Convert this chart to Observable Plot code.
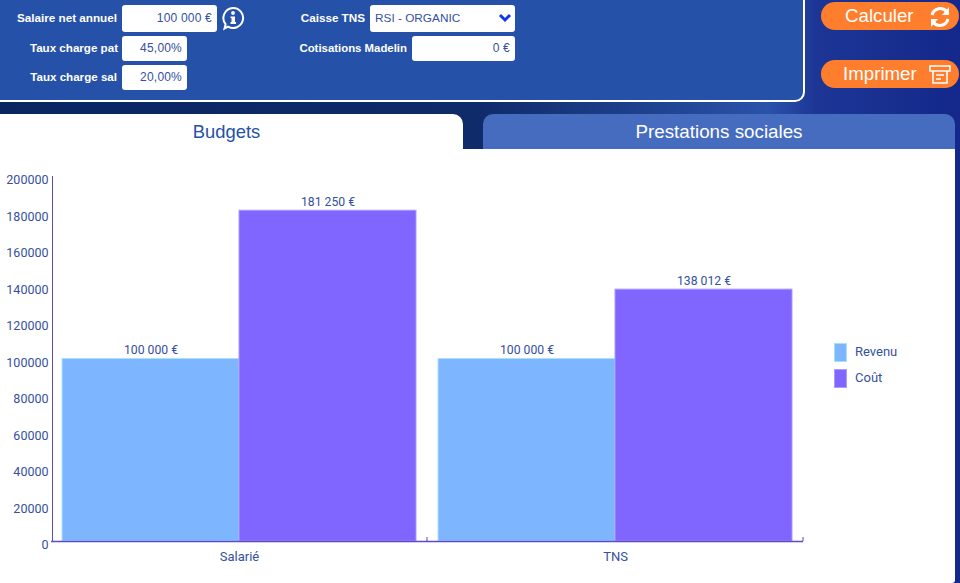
<!DOCTYPE html>
<html lang="fr"><head><meta charset="utf-8">
<script src="https://cdn.jsdelivr.net/npm/d3@7"></script>
<script src="https://cdn.jsdelivr.net/npm/@observablehq/plot@0.6"></script>
<style>
html,body{margin:0;padding:0;width:960px;height:583px;overflow:hidden}
body{position:relative;font-family:"Liberation Sans",Arial,sans-serif;background:linear-gradient(90deg,#0a2560 0%,#0f2b6a 50%,#2a52aa 80%,#1d3696 85%,#13288a 100%)}
.abs{position:absolute}
#panel{left:-4px;top:-4px;width:805px;height:102px;background:#2651a9;border:2px solid #fff;border-radius:0 0 10px 0;}
.lab{position:absolute;color:#fff;font-weight:bold;font-size:11.7px;text-align:right;line-height:14px;white-space:nowrap}
.inp{position:absolute;background:#fff;border-radius:3px;color:#34509f;font-size:12px;text-align:right;box-sizing:border-box;padding-right:5px;letter-spacing:.2px}
.btn{position:absolute;left:821px;width:138px;height:28px;border-radius:14px;background:#ff7e2e;color:#fff;font-size:18.7px;line-height:28px}
.tab{position:absolute;top:114px;height:35px;line-height:35px;text-align:center;font-size:18.4px}
#white{left:0;top:149px;width:955px;height:434px;background:#fff;border-radius:0 0 3px 0}
#chart{position:absolute;left:0;top:149px}
#legend{position:absolute;left:834px;top:339px;font:13px Roboto,sans-serif;color:#34509f}
#legend div{position:relative;height:26px;line-height:26px;padding-left:21px}
#legend i{position:absolute;left:0;top:4px;width:11px;height:17px;border:1px solid}
</style></head><body>
<div class="abs" id="panel"></div>
<div class="lab" style="right:843px;top:11px">Salaire net annuel</div>
<div class="inp" style="left:122px;top:5px;width:95px;height:27px;line-height:27px">100 000 €</div>
<svg class="abs" style="left:221px;top:6px" width="24" height="25" viewBox="0 0 24 25"><path d="M12 2 A10 10 0 1 1 7 20.6 L3.5 22.5 L4.6 18.2 A10 10 0 0 1 12 2 Z" fill="none" stroke="#fff" stroke-width="2"/><circle cx="12" cy="7" r="1.9" fill="#fff"/><path d="M9.5 10.5 H14 V16 H15 V18 H9.5 V16 H10.5 V12 H9.5 Z" fill="#fff"/></svg>
<div class="lab" style="right:842px;top:41px;font-size:11.6px">Taux charge pat</div>
<div class="inp" style="left:122px;top:36px;width:65px;height:25px;line-height:25px">45,00%</div>
<div class="lab" style="right:843px;top:70px;font-size:11.6px">Taux charge sal</div>
<div class="inp" style="left:122px;top:65px;width:65px;height:25px;line-height:25px">20,00%</div>
<div class="lab" style="right:595px;top:11px">Caisse TNS</div>
<div class="inp" style="left:370px;top:5px;width:145px;height:27px;line-height:27px;text-align:left;padding-left:5px;letter-spacing:0;font-size:11.8px">RSI - ORGANIC</div>
<svg class="abs" style="left:498px;top:12px" width="14" height="12" viewBox="0 0 14 12"><path d="M2 3 L7 8 L12 3" fill="none" stroke="#1536e8" stroke-width="3"/></svg>
<div class="lab" style="right:553px;top:41px;font-size:11.4px">Cotisations Madelin</div>
<div class="inp" style="left:412px;top:36px;width:103px;height:25px;line-height:25px">0 €</div>

<div class="btn" style="top:2px"><span class="abs" style="left:24px">Calculer</span>
<svg class="abs" style="left:107px;top:3px" width="24" height="24" viewBox="0 0 24 24"><path d="M4 10 A8.5 8.5 0 0 1 19 7 M20 14 A8.5 8.5 0 0 1 5 17" fill="none" stroke="#fff" stroke-width="3"/><path d="M21 2 V10 H14 Z M3 22 V14 H10 Z" fill="#fff"/></svg></div>
<div class="btn" style="top:60px"><span class="abs" style="left:22px">Imprimer</span>
<svg class="abs" style="left:107px;top:4px" width="24" height="22" viewBox="0 0 24 22"><path d="M2 2 H22 V7 H2 Z M5 7 V19 H19 V7 M8 11 H16 M8 15 H13" fill="none" stroke="#fff" stroke-width="1.6"/></svg></div>

<div class="tab" style="left:0;width:453px;padding-right:10px;background:#fff;color:#2651a9;border-radius:0 10px 0 0">Budgets</div>
<div class="tab" style="left:483px;width:472px;background:#466cbf;color:#fff;border-radius:10px 10px 0 0;font-size:18.8px">Prestations sociales</div>
<div class="abs" id="white"></div>
<div id="chart"></div>
<div id="legend"></div>
<script>
const groups = ["Salarié", "TNS"];
const seriesNames = ["Revenu", "Coût"];
const revenu = [100000, 100000];
const cout = [181250, 138012];
const yTicks = [0, 20000, 40000, 60000, 80000, 100000, 120000, 140000, 160000, 180000, 200000];
const barColors = ["#7db5ff", "#8066ff"];
const barStrokes = ["#a6e2ff", "#ab9cff"];
const axisColor = "#5f49c4";
const textColor = "#34509f";

const rows = groups.flatMap((g, i) => [
  {group: g, series: seriesNames[0], value: revenu[i]},
  {group: g, series: seriesNames[1], value: cout[i]}
]);
const euro = v => d3.format(",")(v).replace(/,/g, " ") + " €";

const plot = Plot.plot({
  width: 955, height: 434,
  marginLeft: 51, marginRight: 152, marginTop: 27, marginBottom: 42,
  style: {background: "transparent", fontFamily: "Roboto, sans-serif", fontSize: "12px", color: textColor},
  fx: {domain: groups, padding: 0, label: null},
  x: {domain: seriesNames, paddingInner: 0, paddingOuter: 0.0565, axis: null},
  y: {domain: [0, 200000], label: null},
  color: {domain: seriesNames, range: barColors},
  marks: [
    Plot.barY(rows, {fx: "group", x: "series", y: "value", fill: "series", stroke: d => barStrokes[seriesNames.indexOf(d.series)], strokeWidth: 1, inset: 0}),
    Plot.text(rows, {fx: "group", x: "series", y: "value", text: d => euro(d.value), dy: -8.5, fill: textColor, fontSize: 12.2}),
    Plot.ruleY([0], {stroke: axisColor, strokeWidth: 1.5, strokeOpacity: 1}),
    Plot.frame({anchor: "left", fx: ["Salarié"], stroke: axisColor, dx: 1}),
    Plot.axisY({ticks: yTicks, tickSize: 0, tickPadding: 3, tickFormat: d3.format("d"), dy: 3.5, fill: textColor, fontSize: 12.5, label: null}),
    Plot.axisFx({anchor: "bottom", tickSize: 0, tickPadding: 10, fill: textColor, fontSize: 13, label: null})
  ]
});
document.getElementById("chart").appendChild(plot);

// small closing ticks at each group boundary on the x axis, positioned by the fx scale
const fx = plot.scale("fx"), yS = plot.scale("y");
const step = fx.bandwidth;
d3.select(plot).append("g").selectAll("line").data(groups).join("line")
  .attr("x1", g => fx.apply(g) + step).attr("x2", g => fx.apply(g) + step)
  .attr("y1", yS.apply(0)).attr("y2", yS.apply(0) - 4)
  .attr("stroke", axisColor);

const lg = d3.select("#legend").selectAll("div").data(seriesNames).join("div");
lg.append("i").style("background", (d, i) => barColors[i]).style("border-color", (d, i) => barStrokes[i]);
lg.append("span").text(d => d);
</script>
</body></html>
